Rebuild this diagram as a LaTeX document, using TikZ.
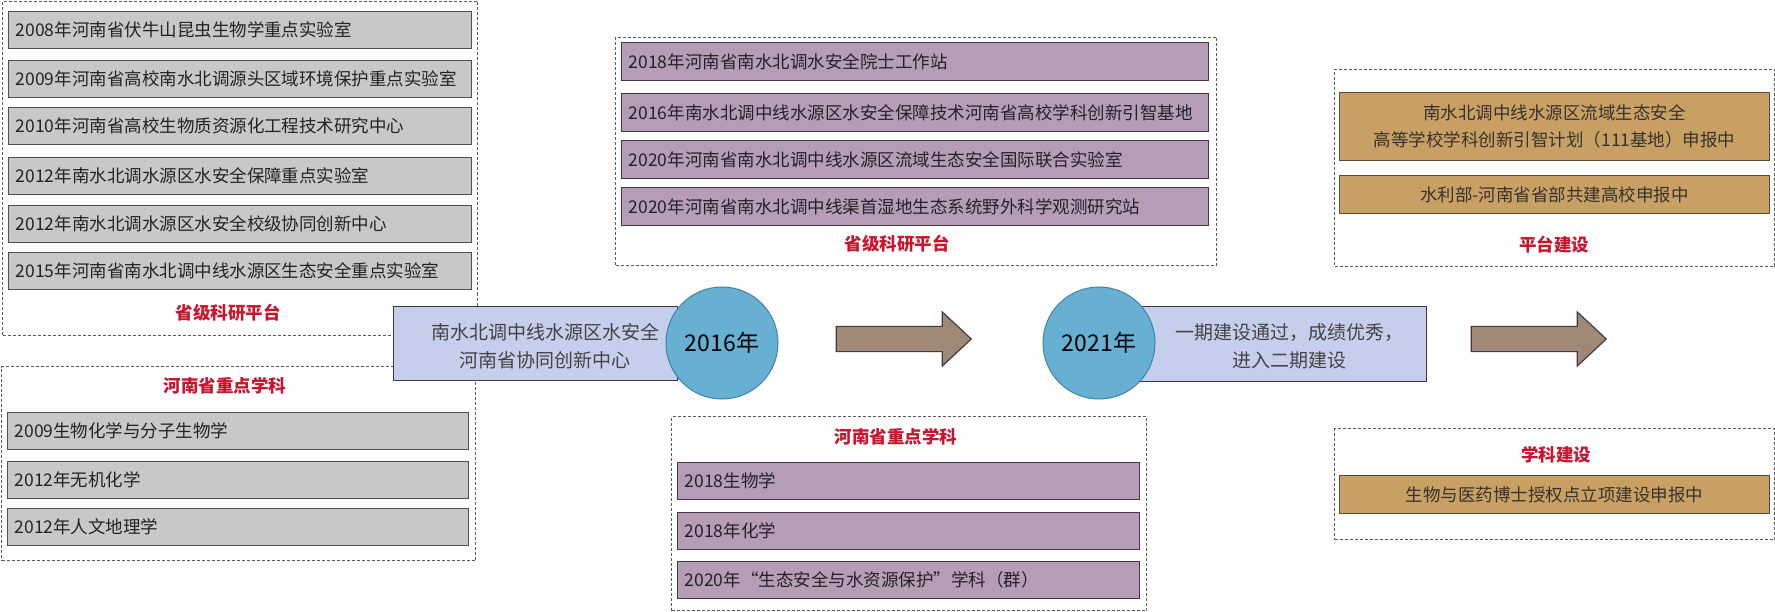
\documentclass[tikz,border=0pt]{standalone}
\usepackage{fontspec}
\newfontfamily\cjk{Noto Sans CJK SC}
\usetikzlibrary{shapes.arrows}
\definecolor{grayfill}{RGB}{200,200,200}
\definecolor{graydraw}{RGB}{80,80,80}
\definecolor{purfill}{RGB}{182,157,182}
\definecolor{purdraw}{RGB}{70,55,70}
\definecolor{tanfill}{RGB}{200,160,100}
\definecolor{tandraw}{RGB}{90,75,55}
\definecolor{tantext}{RGB}{55,50,45}
\definecolor{bluefill}{RGB}{197,206,234}
\definecolor{bluedraw}{RGB}{55,55,70}
\definecolor{circfill}{RGB}{104,176,209}
\definecolor{circdraw}{RGB}{60,130,170}
\definecolor{arrowfill}{RGB}{160,136,120}
\definecolor{arrowdraw}{RGB}{70,60,55}
\definecolor{redlab}{RGB}{200,20,45}
\definecolor{dashcol}{RGB}{90,90,90}
\definecolor{txt}{RGB}{35,35,35}
\begin{document}
\begin{tikzpicture}[x=1pt,y=-1pt,
  every node/.style={font=\cjk\fontsize{17.5}{21}\selectfont, text=txt},
  frame/.style={draw=dashcol, line width=1pt, dash pattern=on 3pt off 2pt, inner sep=0pt, anchor=north west},
  itembox/.style={line width=1.3pt, inner xsep=7pt, inner ysep=0pt, anchor=north west, align=left, minimum height=37pt},
  gitem/.style={itembox, draw=graydraw, fill=grayfill},
  pitem/.style={itembox, draw=purdraw, fill=purfill},
  titem/.style={itembox, draw=tandraw, fill=tanfill, align=center, text=tantext},
  heading/.style={text=redlab, font=\cjk\bfseries\fontsize{17.5}{21}\selectfont},
  bluebox/.style={draw=bluedraw, fill=bluefill, line width=1.2pt, inner sep=0pt, anchor=north west},
  bluetext/.style={align=center, text=txt!85, font=\cjk\fontsize{19}{28}\selectfont},
  yearc/.style={circle, draw=circdraw, fill=circfill, line width=1pt, minimum size=112pt, inner sep=0pt, text=black, font=\cjk\fontsize{23}{26}\selectfont},
  bigarrow/.style={single arrow, draw=arrowdraw, fill=arrowfill, line width=1.2pt, inner xsep=0pt, inner ysep=12pt, single arrow head extend=14.5pt, single arrow head indent=0pt, single arrow tip angle=86, minimum height=135pt}
]
\fill[white] (0,0) rectangle (1775,612);
\useasboundingbox (0,0) rectangle (1775,612);

% ---- left column ----
\node[frame, minimum width=475pt, minimum height=334pt] (fTL) at (2,1) {};
\node[gitem, text width=449pt] (g1) at (8,11) {2008年河南省伏牛山昆虫生物学重点实验室};
\node[gitem, text width=449pt] (g2) at (8,60) {2009年河南省高校南水北调源头区域环境保护重点实验室};
\node[gitem, text width=449pt] (g3) at (8,107) {2010年河南省高校生物质资源化工程技术研究中心};
\node[gitem, text width=449pt] (g4) at (8,157) {2012年南水北调水源区水安全保障重点实验室};
\node[gitem, text width=449pt] (g5) at (8,205) {2012年南水北调水源区水安全校级协同创新中心};
\node[gitem, text width=449pt] (g6) at (8,252) {2015年河南省南水北调中线水源区生态安全重点实验室};
\node[heading] (hTL) at (228,313) {省级科研平台};

\node[frame, minimum width=474pt, minimum height=194pt] (fBL) at (1,366) {};
\node[heading] (hBL) at (225,386) {河南省重点学科};
\node[gitem, text width=447pt] (g7) at (7,412) {2009生物化学与分子生物学};
\node[gitem, text width=447pt] (g8) at (7,461) {2012年无机化学};
\node[gitem, text width=447pt] (g9) at (7,508) {2012年人文地理学};

% ---- middle column ----
\node[frame, minimum width=601pt, minimum height=228pt] (fTM) at (615,37) {};
\node[pitem, text width=573pt, minimum height=38pt] (p1) at (621,42) {2018年河南省南水北调水安全院士工作站};
\node[pitem, text width=573pt, minimum height=38pt] (p2) at (621,93) {2016年南水北调中线水源区水安全保障技术河南省高校学科创新引智基地};
\node[pitem, text width=573pt, minimum height=38pt] (p3) at (621,140) {2020年河南省南水北调中线水源区流域生态安全国际联合实验室};
\node[pitem, text width=573pt, minimum height=38pt] (p4) at (621,187) {2020年河南省南水北调中线渠首湿地生态系统野外科学观测研究站};
\node[heading] (hTM) at (897,244) {省级科研平台};

\node[frame, minimum width=475pt, minimum height=194pt] (fBM) at (671,416) {};
\node[heading] (hBM) at (896,437) {河南省重点学科};
\node[pitem, text width=448pt] (p5) at (677,462) {2018生物学};
\node[pitem, text width=448pt] (p6) at (677,512) {2018年化学};
\node[pitem, text width=448pt] (p7) at (677,561) {2020年“生态安全与水资源保护”学科（群）};

% ---- right column ----
\node[frame, minimum width=440pt, minimum height=197pt] (fTR) at (1334,69) {};
\node[titem, text width=416pt, minimum height=68pt, font=\cjk\fontsize{17.5}{27}\selectfont] (t1) at (1339,92) {南水北调中线水源区流域生态安全\\高等学校学科创新引智计划（111基地）申报中};
\node[titem, text width=416pt, minimum height=38pt] (t2) at (1339,175) {水利部-河南省省部共建高校申报中};
\node[heading] (hTR) at (1554,245) {平台建设};

\node[frame, minimum width=440pt, minimum height=111pt] (fBR) at (1334,428) {};
\node[heading] (hBR) at (1556,455) {学科建设};
\node[titem, text width=416pt, minimum height=38pt] (t3) at (1339,475) {生物与医药博士授权点立项建设申报中};

% ---- timeline ----
\node[bluebox, minimum width=284pt, minimum height=74pt] (b1) at (393,306) {};
\node[bluetext] (b1t) at (545,346) {南水北调中线水源区水安全\\河南省协同创新中心};
\node[yearc] (c1) at (722,343) {2016年};
\node[bigarrow] (a1) at (897,339) {};

\node[bluebox, minimum width=286pt, minimum height=75pt] (b2) at (1140,306) {};
\node[bluetext] (b2t) at (1289,346) {一期建设通过，成绩优秀，\\进入二期建设};
\node[yearc] (c2) at (1099,343) {2021年};
\node[bigarrow] (a2) at (1532,339) {};
\end{tikzpicture}
\end{document}
